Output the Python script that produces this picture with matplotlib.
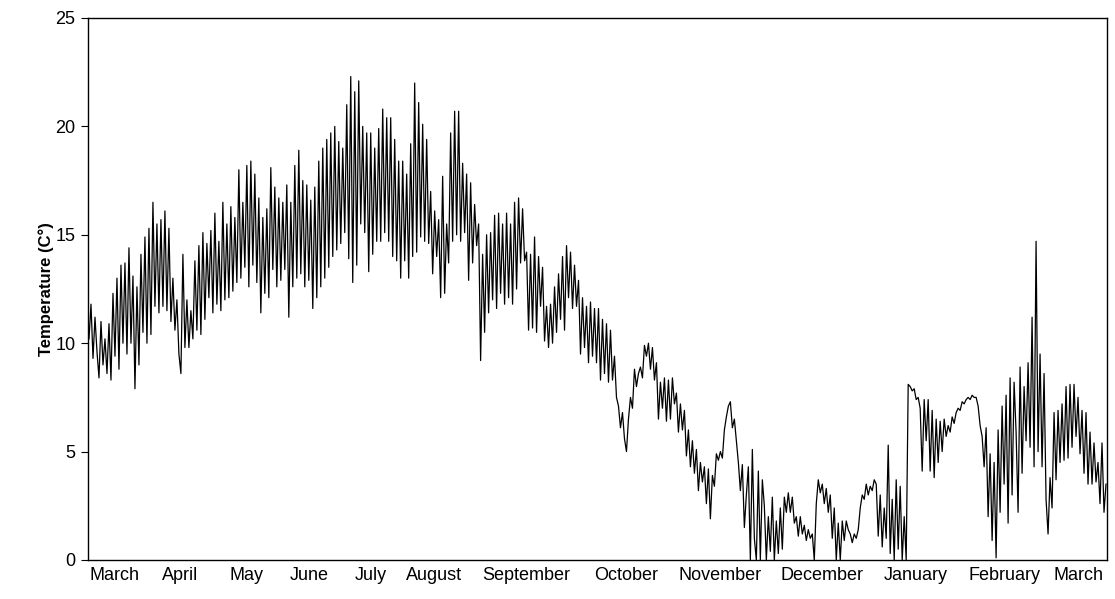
import matplotlib
matplotlib.use("Agg")
import matplotlib.pyplot as plt

plt.rcParams['font.family'] = ['Liberation Sans', 'DejaVu Sans']

# Temperature samples (evenly spaced samples)
temperature = [
    10.2, 11.8, 9.3, 11.2, 9.6,
    8.4, 11.0, 9.0, 10.2, 8.6,
    10.9, 8.3, 12.3, 9.4, 13.0,
    8.8, 13.6, 10.0, 13.7, 9.5,
    14.4, 10.0, 13.1, 7.9, 12.6,
    9.0, 14.1, 10.5, 14.9, 10.0,
    15.3, 10.4, 16.5, 11.7, 15.5,
    11.4, 15.7, 11.7, 16.1, 11.5,
    15.3, 11.0, 13.0, 10.6, 12.0,
    9.5, 8.6, 14.1, 9.8, 12.0,
    9.8, 11.5, 10.2, 13.8, 10.6,
    14.5, 10.4, 15.1, 11.1, 14.6,
    12.1, 15.2, 11.4, 16.0, 11.8,
    14.7, 11.5, 16.5, 12.0, 15.5,
    12.1, 16.3, 12.4, 15.8, 12.8,
    18.0, 13.0, 16.5, 13.5, 18.2,
    12.6, 18.4, 13.6, 17.8, 12.8,
    16.7, 11.4, 15.8, 12.3, 16.2,
    12.1, 18.1, 13.4, 17.2, 12.6,
    16.7, 12.9, 16.5, 13.4, 17.3,
    11.2, 16.5, 12.6, 18.2, 13.0,
    18.9, 13.2, 17.5, 12.6, 17.3,
    12.9, 16.6, 11.6, 17.2, 12.1,
    18.4, 12.6, 19.0, 13.0, 19.4,
    13.5, 19.7, 14.0, 20.0, 14.3,
    19.3, 14.6, 19.0, 15.1, 21.0,
    13.9, 22.3, 12.8, 21.6, 13.6,
    22.1, 15.5, 20.0, 15.1, 19.7,
    13.3, 19.7, 14.1, 19.0, 14.7,
    19.9, 14.7, 20.8, 15.1, 20.4,
    14.7, 20.4, 14.0, 19.4, 13.8,
    18.4, 13.0, 18.4, 13.8, 17.8,
    13.0, 19.2, 14.0, 22.0, 14.2,
    21.1, 14.9, 20.1, 14.7, 19.4,
    14.6, 17.0, 13.2, 16.1, 14.0,
    15.7, 12.1, 17.7, 12.3, 15.5,
    13.7, 19.7, 14.7, 20.7, 15.0,
    20.7, 14.7, 18.3, 15.1, 17.8,
    12.9, 17.4, 13.7, 16.4, 14.5,
    15.5, 9.2, 14.1, 10.5, 15.0,
    11.4, 15.1, 12.0, 15.9, 11.6,
    16.0, 12.3, 15.5, 11.8, 16.0,
    12.1, 15.5, 11.8, 16.5, 12.5,
    16.7, 13.7, 16.2, 13.8, 14.2,
    10.6, 14.1, 10.7, 14.9, 10.5,
    14.0, 11.7, 13.5, 10.1, 11.7,
    9.8, 11.8, 10.0, 12.6, 10.5,
    13.2, 11.1, 14.0, 10.6, 14.5,
    12.1, 14.2, 11.6, 13.6, 11.7,
    12.9, 9.5, 12.1, 9.8, 11.7,
    9.1, 11.9, 9.4, 11.6, 9.1,
    11.6, 8.3, 11.1, 8.6, 10.9,
    8.2, 10.6, 8.3, 9.4, 7.5,
    7.1, 6.1, 6.8, 5.6, 5.0,
    6.5, 7.5, 7.0, 8.8, 8.0,
    8.6, 8.9, 8.4, 9.9, 9.4,
    10.0, 8.8, 9.8, 8.3, 9.1,
    6.5, 8.2, 7.0, 8.4, 6.4,
    8.3, 6.5, 8.4, 7.2, 7.7,
    5.9, 7.2, 6.0, 6.9, 4.8,
    6.0, 4.3, 5.5, 4.0, 5.1,
    3.2, 4.5, 3.6, 4.3, 2.6,
    4.2, 1.9, 3.9, 3.4, 4.9,
    4.6, 5.0, 4.7, 6.0, 6.6,
    7.1, 7.3, 6.1, 6.5, 5.5,
    4.5, 3.2, 4.4, 1.5, 3.0,
    4.3, 0.0, 5.1, 1.0, 0.0,
    4.1, 0.0, 3.7, 2.5, 0.0,
    2.0, 0.4, 2.9, 0.0, 1.8,
    0.3, 2.4, 0.5, 2.9, 2.2,
    3.1, 2.2, 2.9, 1.7, 2.0,
    1.1, 2.0, 1.2, 1.6, 0.9,
    1.4, 1.0, 1.2, 0.0, 2.6,
    3.7, 3.1, 3.5, 2.6, 3.3,
    2.2, 3.0, 1.0, 2.4, 0.0,
    1.7, 0.0, 1.8, 0.9, 1.8,
    1.4, 1.2, 0.8, 1.2, 1.0,
    1.4, 2.4, 3.0, 2.8, 3.5,
    3.0, 3.4, 3.2, 3.7, 3.5,
    1.1, 3.0, 0.6, 2.4, 1.0,
    5.3, 0.3, 2.8, 0.0, 3.7,
    0.5, 3.4, 0.0, 2.0, 0.0,
    8.1, 8.0, 7.8, 7.9, 7.4,
    7.5, 7.0, 4.1, 7.4, 5.5,
    7.4, 4.1, 6.9, 3.8, 6.5,
    4.5, 6.4, 5.0, 6.5, 5.7,
    6.2, 5.9, 6.6, 6.3, 6.8,
    7.0, 6.9, 7.3, 7.2, 7.4,
    7.5, 7.4, 7.6, 7.5, 7.5,
    7.1, 6.2, 5.7, 4.3, 6.1,
    2.0, 4.9, 0.9, 4.5, 0.1,
    6.0, 2.2, 7.1, 3.5, 7.6,
    1.7, 8.4, 3.0, 8.2, 5.9,
    2.2, 8.9, 4.0, 8.0, 5.5,
    9.1, 5.2, 11.2, 4.3, 14.7,
    5.0, 9.5, 4.3, 8.6, 2.8,
    1.2, 3.8, 2.4, 6.8, 3.7,
    6.9, 4.5, 7.2, 4.6, 8.0,
    4.7, 8.1, 5.2, 8.1, 5.7,
    7.5, 4.9, 6.9, 4.0, 6.8,
    3.5, 5.9, 3.5, 5.4, 3.6,
    4.5, 2.6, 5.4, 2.2, 3.5,
]

month_labels = ["March", "April", "May", "June", "July", "August", "September",
                "October", "November", "December", "January", "February", "March"]
# sample index at which each month label is centred
month_label_pos = [13, 45.5, 79, 110, 141, 172.5, 219, 269, 316, 367, 414, 458, 495]

y_ticks = [0, 5, 10, 15, 20, 25]

fig = plt.figure(figsize=(11.15, 5.99), dpi=100)
ax = fig.add_axes([88 / 1115, 39 / 599, 1019 / 1115, 542 / 599])

x = list(range(len(temperature)))
ax.plot(x, temperature, color='black', linewidth=0.9)

ax.set_xlim(-0.5, len(temperature) - 0.5)
ax.set_ylim(0, 25)
ax.set_yticks(y_ticks)
ax.set_xticks(month_label_pos)
ax.set_xticklabels(month_labels)
ax.tick_params(axis='x', length=0, pad=5, labelsize=13)
ax.tick_params(axis='y', length=5, direction='out', labelsize=13, pad=4)
ax.set_ylabel("Temperature (C°)", fontsize=12, fontweight='bold', labelpad=1)

for s in ax.spines.values():
    s.set_color('black')
    s.set_linewidth(1.0)

fig.savefig("out.png", dpi=100)
